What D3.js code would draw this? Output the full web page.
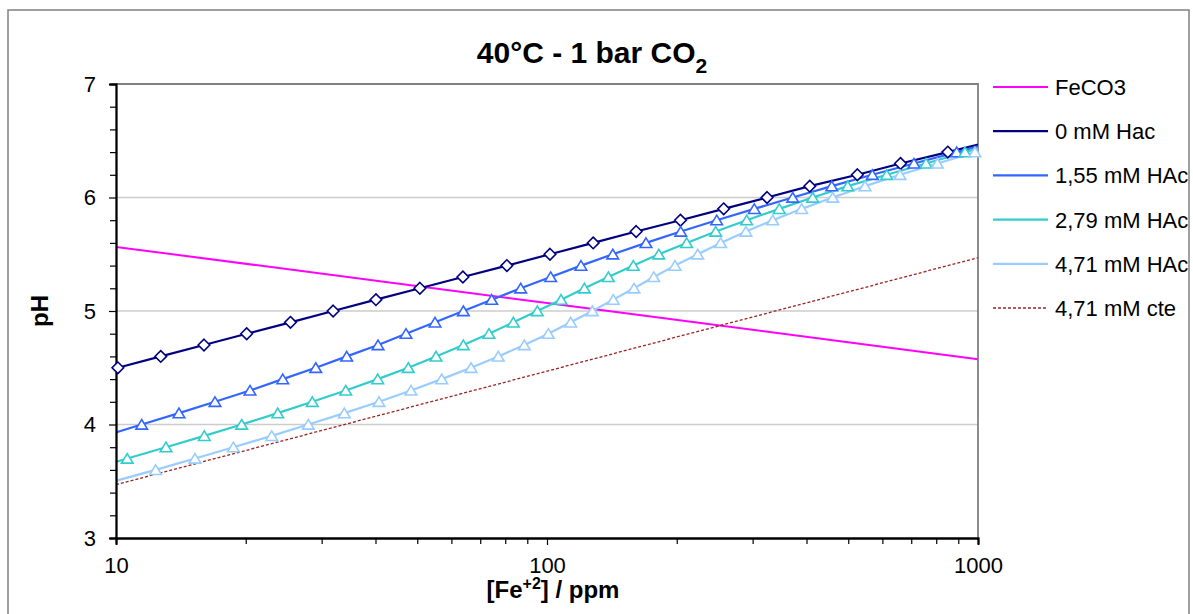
<!DOCTYPE html>
<html>
<head>
<meta charset="utf-8">
<script src="https://cdn.jsdelivr.net/npm/d3@7"></script>
<style>
  body { margin: 0; background: #ffffff; }
  svg { display: block; }
  text { font-family: "Liberation Sans", Arial, Helvetica, sans-serif; fill: #000; }
</style>
</head>
<body>
<svg id="chart" width="1193" height="614"></svg>
<script>
// ---- Data: pH as a function of dissolved Fe2+ (ppm), 40 °C, 1 bar CO2 ----
const fecFe = [10, 100, 1000];
const fecPH = [5.565, 5.07, 4.575];

const hac0Fe = [8.0, 10.1, 12.7, 16.0, 20.1, 25.4, 31.9, 40.1, 50.7, 63.8, 80.7, 101.6, 128, 161, 204, 257, 324, 407, 525, 661, 851, 1085];
const hac0PH = [4.4, 4.5, 4.6, 4.7, 4.8, 4.9, 5.0, 5.1, 5.2, 5.3, 5.4, 5.5, 5.6, 5.7, 5.8, 5.9, 6.0, 6.1, 6.2, 6.3, 6.4, 6.5];

const hac155Fe = [9.43, 11.47, 14.0, 16.97, 20.46, 24.37, 29.07, 34.3, 40.55, 47.08, 54.98, 63.96, 74.42, 86.9, 101.98, 119.9, 142.1, 169.7, 204.3, 247.6, 302.7, 371.6, 457.8, 568.6, 710.3, 892.4, 1117];
const hac155PH = [3.9, 4.0, 4.1, 4.2, 4.3, 4.4, 4.5, 4.6, 4.7, 4.8, 4.9, 5.0, 5.1, 5.2, 5.3, 5.4, 5.5, 5.6, 5.7, 5.8, 5.9, 6.0, 6.1, 6.2, 6.3, 6.4, 6.5];

const hac279Fe = [8.64, 10.62, 13.06, 16.03, 19.57, 23.73, 28.54, 34.12, 40.48, 47.66, 55.27, 63.96, 73.33, 83.54, 94.95, 107.8, 122.1, 138.8, 158.6, 181.7, 210.9, 246.3, 290.6, 345.9, 413.5, 498.6, 614.0, 757.5, 933.0, 1148];
const hac279PH = [3.6, 3.7, 3.8, 3.9, 4.0, 4.1, 4.2, 4.3, 4.4, 4.5, 4.6, 4.7, 4.8, 4.9, 5.0, 5.1, 5.2, 5.3, 5.4, 5.5, 5.6, 5.7, 5.8, 5.9, 6.0, 6.1, 6.2, 6.3, 6.4, 6.5];

const hac471Fe = [9.9, 12.36, 15.25, 18.72, 22.98, 27.94, 33.86, 40.76, 48.36, 56.98, 66.63, 77.09, 88.59, 100.7, 113.5, 127.4, 142.5, 159.2, 176.9, 198.2, 223.7, 252.9, 289.5, 334.0, 389.9, 460.2, 546.9, 659.2, 804.7, 984.0, 1211];
const hac471PH = [3.5, 3.6, 3.7, 3.8, 3.9, 4.0, 4.1, 4.2, 4.3, 4.4, 4.5, 4.6, 4.7, 4.8, 4.9, 5.0, 5.1, 5.2, 5.3, 5.4, 5.5, 5.6, 5.7, 5.8, 5.9, 6.0, 6.1, 6.2, 6.3, 6.4, 6.5];

const cteFe = [10, 100, 1000];
const ctePH = [3.47, 4.47, 5.47];

const seriesNames = ["FeCO3", "0 mM Hac", "1,55 mM HAc", "2,79 mM HAc", "4,71 mM HAc", "4,71 mM cte"];

const xMajorTicks = [10, 100, 1000];
const xMinorTicks = [20, 30, 40, 50, 60, 70, 80, 90, 200, 300, 400, 500, 600, 700, 800, 900];
const yMajorTicks = [3, 4, 5, 6, 7];
const yMinorTicks = [3.2, 3.4, 3.6, 3.8, 4.2, 4.4, 4.6, 4.8, 5.2, 5.4, 5.6, 5.8, 6.2, 6.4, 6.6, 6.8];
const yGridTicks = [4, 5, 6];

// ---- Layout ----
const svg = d3.select("#chart");
const plot = { left: 116, right: 978, top: 84, bottom: 538 };

const x = d3.scaleLog().domain([10, 1000]).range([plot.left, plot.right]);
const y = d3.scaleLinear().domain([3, 7]).range([plot.bottom, plot.top]);

const zip = (fe, ph) => fe.map((v, i) => ({ fe: v, ph: ph[i] }));

const series = [
  { name: seriesNames[0], data: zip(fecFe, fecPH),       color: "#ff00ff", width: 2,    marker: null },
  { name: seriesNames[1], data: zip(hac0Fe, hac0PH),     color: "#000080", width: 2.2,  marker: "diamond" },
  { name: seriesNames[2], data: zip(hac155Fe, hac155PH), color: "#3366ff", width: 2.2,  marker: "triangle" },
  { name: seriesNames[3], data: zip(hac279Fe, hac279PH), color: "#33cccc", width: 2.2,  marker: "triangle" },
  { name: seriesNames[4], data: zip(hac471Fe, hac471PH), color: "#99ccff", width: 2.2,  marker: "triangle" },
  { name: seriesNames[5], data: zip(cteFe, ctePH),       color: "#9b2323", width: 1.3,  marker: null, dash: "3,2" }
];

const markerPath = {
  diamond: "M0,-5.8L5.8,0L0,5.8L-5.8,0Z",
  triangle: "M0,-5L5.8,4.6L-5.8,4.6Z"
};

// Outer chart frame
svg.append("rect")
  .attr("x", 8).attr("y", 10)
  .attr("width", 1181).attr("height", 620)
  .attr("fill", "none").attr("stroke", "#808080").attr("stroke-width", 1.5);

// Horizontal gridlines
svg.append("g").selectAll("line").data(yGridTicks).join("line")
  .attr("x1", plot.left).attr("x2", plot.right)
  .attr("y1", d => y(d)).attr("y2", d => y(d))
  .attr("stroke", "#cccccc").attr("stroke-width", 1.5);

// Plot area border (top and right)
svg.append("path")
  .attr("d", `M${plot.left},${y(7)}H${plot.right}V${plot.bottom}`)
  .attr("fill", "none").attr("stroke", "#808080").attr("stroke-width", 1.8);

// Clip for the series lines
svg.append("defs").append("clipPath").attr("id", "plotClip")
  .append("rect")
  .attr("x", plot.left).attr("y", plot.top)
  .attr("width", plot.right - plot.left).attr("height", plot.bottom - plot.top);

const line = d3.line().x(d => x(d.fe)).y(d => y(d.ph));

const linesG = svg.append("g").attr("clip-path", "url(#plotClip)");
series.forEach(s => {
  linesG.append("path")
    .datum(s.data)
    .attr("d", line)
    .attr("fill", "none")
    .attr("stroke", s.color)
    .attr("stroke-width", s.width)
    .attr("stroke-dasharray", s.dash || null)
    .attr("stroke-linejoin", "round");
});

// Axes
const yAxisMinor = d3.axisLeft(y).tickValues(yMinorTicks).tickSize(6).tickFormat("");
const yAxis = d3.axisLeft(y).tickValues(yMajorTicks).tickSize(7).tickPadding(13).tickFormat(d3.format("d"));
const xAxisMinor = d3.axisBottom(x).tickValues(xMinorTicks).tickSize(6).tickFormat("");
const xAxis = d3.axisBottom(x).tickValues(xMajorTicks).tickSize(7).tickPadding(12).tickFormat(d3.format("d"));

function styleAxis(g) {
  g.select(".domain").attr("stroke", "#000").attr("stroke-width", 1.8);
  g.selectAll(".tick line").attr("stroke", "#000").attr("stroke-width", 1.2);
  g.selectAll(".tick text").style("font-size", "22px").attr("fill", "#000");
}

svg.append("g").attr("transform", `translate(${plot.left},0)`).call(yAxisMinor).call(styleAxis);
svg.append("g").attr("transform", `translate(${plot.left},0)`).call(yAxis).call(styleAxis);
svg.append("g").attr("transform", `translate(0,${plot.bottom})`).call(xAxisMinor).call(styleAxis);
svg.append("g").attr("transform", `translate(0,${plot.bottom})`).call(xAxis).call(styleAxis);

// Markers (only points inside the x range)
series.filter(s => s.marker).forEach(s => {
  svg.append("g").selectAll("path")
    .data(s.data.filter(d => d.fe >= 10 && d.fe <= 1000))
    .join("path")
    .attr("transform", d => `translate(${x(d.fe)},${y(d.ph)})`)
    .attr("d", markerPath[s.marker])
    .attr("fill", "#ffffff")
    .attr("stroke", s.color)
    .attr("stroke-width", 1.6);
});

// Title
const title = svg.append("text")
  .attr("x", 592).attr("y", 63)
  .attr("text-anchor", "middle")
  .style("font-size", "30px").style("font-weight", "bold");
title.append("tspan").text("40°C - 1 bar CO");
title.append("tspan").attr("dy", 10).style("font-size", "21px").text("2");

// Axis titles
const xTitle = svg.append("text")
  .attr("x", 553).attr("y", 598)
  .attr("text-anchor", "middle")
  .style("font-size", "24px").style("font-weight", "bold");
xTitle.append("tspan").text("[Fe");
xTitle.append("tspan").attr("dy", -9).style("font-size", "16px").text("+2");
xTitle.append("tspan").attr("dy", 9).text("] / ppm");

svg.append("text")
  .attr("transform", "translate(48,311) rotate(-90)")
  .attr("text-anchor", "middle")
  .style("font-size", "24px").style("font-weight", "bold")
  .text("pH");

// Legend
const legendTop = 87, legendStep = 44.2;
const legend = svg.append("g");
series.forEach((s, i) => {
  const ly = legendTop + i * legendStep;
  const g = legend.append("g");
  g.append("line")
    .attr("x1", 993).attr("x2", 1048).attr("y1", ly).attr("y2", ly)
    .attr("stroke", s.color).attr("stroke-width", s.width)
    .attr("stroke-dasharray", s.dash || null);
  if (s.marker) {
    const cid = "legClip" + i;
    svg.select("defs").append("clipPath").attr("id", cid)
      .append("rect").attr("x", 1008).attr("y", ly - 0.5).attr("width", 24).attr("height", 10);
    g.append("path")
      .attr("clip-path", `url(#${cid})`)
      .attr("transform", `translate(1020,${ly})`)
      .attr("d", markerPath[s.marker])
      .attr("fill", "#ffffff")
      .attr("stroke", s.color)
      .attr("stroke-width", 1.6);
  }
  g.append("text")
    .attr("x", 1055).attr("y", ly).attr("dy", "0.36em")
    .style("font-size", "22px")
    .text(s.name);
});
</script>
</body>
</html>
